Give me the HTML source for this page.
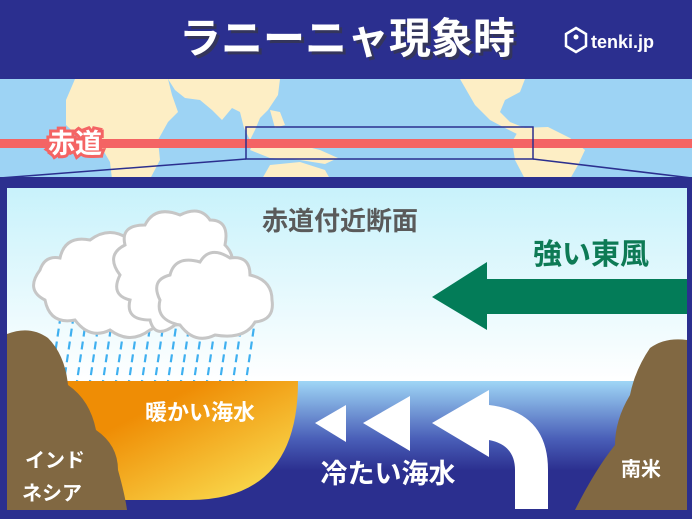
<!DOCTYPE html>
<html><head><meta charset="utf-8"><style>
html,body{margin:0;padding:0;width:692px;height:519px;overflow:hidden;background:#2b2f8f}
svg{display:block}
text{font-family:"Liberation Sans","Noto Sans CJK JP",sans-serif;font-weight:bold}
</style></head><body>
<svg width="692" height="519" viewBox="0 0 692 519" xmlns="http://www.w3.org/2000/svg">
<defs>
<linearGradient id="sky" x1="0" y1="0" x2="0" y2="1"><stop offset="0" stop-color="#c8f2fb"/><stop offset="1" stop-color="#ffffff"/></linearGradient>
<linearGradient id="sea" x1="0" y1="0" x2="0" y2="1"><stop offset="0" stop-color="#9fd6f6"/><stop offset="0.45" stop-color="#4a5fb8"/><stop offset="0.7" stop-color="#2b2f8f"/><stop offset="1" stop-color="#2b2f8f"/></linearGradient>
<linearGradient id="warm" x1="0" y1="0" x2="1" y2="1"><stop offset="0.3" stop-color="#ef8d05"/><stop offset="1" stop-color="#fbe75a"/></linearGradient>
</defs>
<rect x="0" y="0" width="692" height="79" fill="#2b2f8f"/>
<text x="347" y="53" text-anchor="middle" font-size="42" fill="#3a3a3a" opacity="0.6" transform="translate(3,3)">ラニーニャ現象時</text>
<text x="347" y="53" text-anchor="middle" font-size="42" fill="#ffffff">ラニーニャ現象時</text>
<g transform="translate(566,28)"><path d="M10 0 L20 6 L20 18 L10 24 L0 18 L0 6 Z" fill="none" stroke="#fff" stroke-width="2.5"/><circle cx="10" cy="9" r="2.5" fill="#fff"/></g>
<text x="591" y="48" font-size="18" fill="#ffffff">tenki.jp</text>
<rect x="0" y="79" width="692" height="100" fill="#9dd3f4"/>
<g fill="#fdeec5">
<path d="M75 79 L168 79 L172 95 L178 112 L168 122 L158 140 L160 160 L150 179 L112 179 L110 162 L100 145 L80 138 L66 125 L66 100 Z"/>
<path d="M168 79 L280 79 L278 95 L268 110 L260 118 L255 130 L250 140 L244 128 L240 112 L232 108 L222 120 L212 110 L200 100 L185 98 L175 90 Z"/>
<path d="M270 110 L280 112 L285 125 L275 128 Z"/>
<path d="M255 140 L280 142 L300 145 L320 150 L338 158 L325 164 L300 160 L270 158 L250 150 Z"/>
<path d="M270 165 L300 162 L325 170 L330 179 L262 179 Z"/>
<path d="M460 79 L525 79 L520 92 L505 100 L500 112 L510 122 L530 130 L525 138 L505 128 L490 120 L475 105 Z"/>
<path d="M520 128 L548 127 L570 138 L585 150 L578 165 L570 179 L525 179 L515 160 L512 142 Z"/>
</g>
<rect x="0" y="139" width="692" height="9" fill="#f46464"/>
<text x="75" y="153" text-anchor="middle" font-size="27" fill="#fff" stroke="#f46464" stroke-width="6" paint-order="stroke">赤道</text>
<rect x="246" y="127" width="287" height="32" fill="none" stroke="#2b2f8f" stroke-width="1.5"/>
<line x1="246" y1="159" x2="0" y2="178" stroke="#2b2f8f" stroke-width="1.5"/>
<line x1="533" y1="159" x2="692" y2="178" stroke="#2b2f8f" stroke-width="1.5"/>
<rect x="0" y="177" width="692" height="342" fill="#2b2f8f"/>
<rect x="7" y="188" width="680" height="194" fill="url(#sky)"/>
<rect x="7" y="381" width="680" height="128" fill="url(#sea)"/>
<text x="340" y="230" text-anchor="middle" font-size="26" fill="#5a5a5a">赤道付近断面</text>
<g stroke="#3fb0f0" stroke-width="2.2" stroke-dasharray="8,5">
<path d="M50 388 L60 320 M63 388 L73 320 M76 388 L86 320 M89 388 L99 320 M102 388 L112 320 M115 388 L125 320 M128 388 L138 320 M141 388 L151 320 M154 388 L164 320 M167 388 L177 320 M180 388 L190 320 M193 388 L203 320 M206 388 L216 320 M219 388 L229 320 M232 388 L242 320 M245 388 L255 320"/>
</g>
<g fill="#fff" stroke="#c6c6c6" stroke-width="3">
<path d="M150 330 Q130 345 110 330 Q90 340 75 320 Q50 325 45 300 Q25 290 40 270 Q45 255 60 258 Q65 235 90 240 Q110 225 130 240 Q150 235 160 255 Q180 260 170 290 Q175 320 150 330 Z"/>
<path d="M175 325 Q155 340 150 320 Q125 320 130 300 Q110 295 120 275 Q105 255 125 245 Q120 225 145 225 Q155 205 180 215 Q200 205 210 220 Q230 220 225 245 Q240 260 225 280 Q230 305 205 305 Q195 325 175 325 Z"/>
<path d="M215 335 Q195 345 180 325 Q155 320 160 300 Q150 280 170 275 Q175 255 200 262 Q210 245 230 258 Q250 255 250 275 Q272 280 272 300 Q275 320 255 322 Q245 340 215 335 Z"/>
</g>
<path d="M432 297 L487 262 L487 279 L687 279 L687 314 L487 314 L487 330 Z" fill="#037c58"/>
<text x="591" y="264" text-anchor="middle" font-size="29" fill="#0d7a55">強い東風</text>
<path d="M65 381 L298 381 Q298 500 190 500 L100 500 L65 381 Z" fill="url(#warm)"/>
<text x="200" y="420" text-anchor="middle" font-size="22" fill="#fff">暖かい海水</text>
<path d="M7 334 Q30 325 48 338 Q65 355 68 385 Q90 400 96 430 Q118 445 118 470 Q125 495 127 510 L7 510 Z" fill="#816842"/>
<path d="M687 340 Q665 337 650 348 Q635 370 630 395 Q615 420 615 445 Q595 470 575 510 L687 510 Z" fill="#816842"/>
<text x="55" y="467" text-anchor="middle" font-size="20" fill="#fff">インド</text>
<text x="52" y="500" text-anchor="middle" font-size="20" fill="#fff">ネシア</text>
<text x="641" y="476" text-anchor="middle" font-size="20" fill="#fff">南米</text>
<g fill="#fff">
<path d="M315 423 L346 405 L346 442 Z"/>
<path d="M363 423 L410 396 L410 451 Z"/>
<path d="M432 423 L489 390 L489 405 Q548 412 548 470 L548 509 L515 509 L515 470 Q515 445 489 440 L489 457 Z"/>
</g>
<text x="388" y="483" text-anchor="middle" font-size="27" fill="#fff">冷たい海水</text>
</svg>
</body></html>
